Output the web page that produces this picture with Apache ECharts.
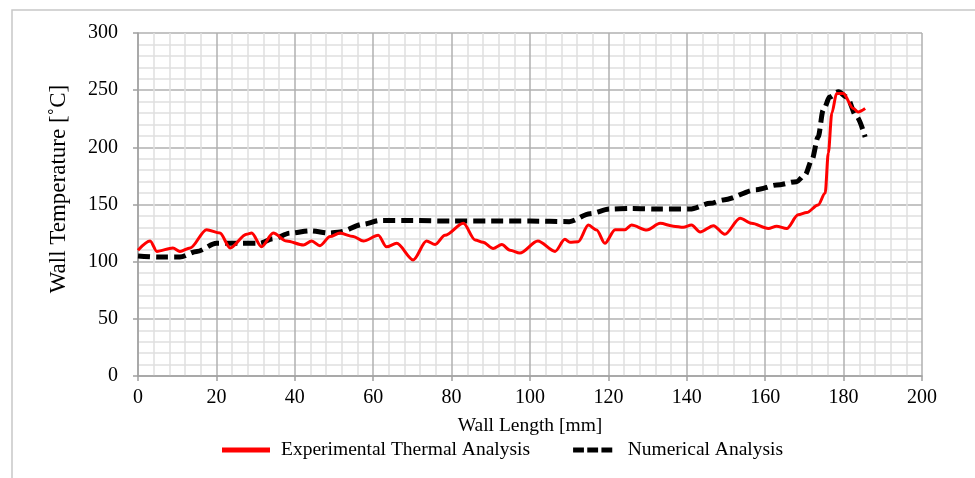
<!DOCTYPE html>
<html>
<head>
<meta charset="utf-8">
<script src="https://cdn.jsdelivr.net/npm/echarts@6/dist/echarts.min.js"></script>
<style>
html,body{margin:0;padding:0;background:#fff;}
#chart{width:975px;height:478px;}
</style>
</head>
<body>
<div id="chart"></div>
<script>
// Experimental thermal analysis (red)
var expX = [0,3.1,4.8,8.9,10.7,13.3,17.5,20.9,23.5,27.7,29,31.5,34.5,37.9,42.2,44.3,46.4,49,51.5,54.9,57.5,61.3,63.4,66,70.2,73.6,75.8,78.3,83,86,88,90.6,92.8,94.9,97.4,102,106.4,108.9,110.2,112.3,114.9,117,119.1,121.7,124.2,125.9,129.8,133.2,136.6,139.1,141.2,143.4,146.8,149.7,153.6,156.5,160.8,162.9,165.5,168.4,170.6,173.5,175.3,176.1,177,178.2,179.9,182.5,183.7,185.5];
var expT = [110,118,109,112,109,112,128,125,112,124,125,113,125,118,114.6,118,114,122,125,122,118,123,113,116,101.5,118,115,123,133.5,119,117,111.6,115,110,107.5,118,109,119.5,117,117.5,132,127.7,116,128,128,132,127.7,133.5,131,130,132,126,131.5,124,138,133.5,129,131,129,141,143,149.6,160,195,230,247,247,234,231,234];
// Numerical analysis (black dashed)
var numX = [0,5,10.7,15,20,26,31,34.5,38.8,43.9,49,51.5,57.4,61.7,70,80,90,100,110,115.3,120.4,125.5,133,140.8,146,149.3,157.8,162.9,168,170.2,171.9,173.5,174.8,176.5,178.7,180.8,183.3,185.5];
var numT = [105,104,104,109,116,116,116,120,125,127,125,126,132.7,136,136,135.5,135.5,135.5,135,142,146,146.5,146,146,151,154,163,167,170,176,189,209,232.6,244,248.6,244,227,209];

var seriesNames = ['Experimental Thermal Analysis','Numerical Analysis'];
var xAxisName = 'Wall Length [mm]';
var yAxisName = 'Wall Temperature [˚C]';

function zip(a,b){var r=[];for(var i=0;i<a.length;i++){r.push([a[i],b[i]]);}return r;}

var font = 'Liberation Serif';
var chart = echarts.init(document.getElementById('chart'));
chart.setOption({
  backgroundColor:'#fff',
  animation:false,
  grid:{left:138,right:53,top:33,bottom:102},
  graphic:[
    {type:'rect',shape:{x:12,y:10,width:980,height:480},style:{fill:'none',stroke:'#c8c8c8',lineWidth:1.5},silent:true,z:-10},
    {type:'text',style:{text:yAxisName,font:'23px "Liberation Serif"',fill:'#000',align:'center',verticalAlign:'middle'},rotation:Math.PI/2,x:59,y:189,silent:true}
  ],
  legend:{
    left:222, top:440, padding:0,
    itemWidth:48, itemHeight:5, itemGap:43,
    textStyle:{fontFamily:font,fontSize:19.5,color:'#000',padding:[0,0,0,6]},
    data:[
      {name:seriesNames[0],icon:'path://M0,0L48,0L48,5L0,5Z',itemStyle:{color:'#ff0000'}},
      {name:seriesNames[1],icon:'path://M0,0L13,0L13,6L0,6Z M17,0L30,0L30,6L17,6Z M34,0L47,0L47,6L34,6Z',itemStyle:{color:'#000'}}
    ]
  },
  xAxis:{
    type:'value',min:0,max:200,interval:20,
    name:xAxisName,nameLocation:'middle',nameGap:40,
    nameTextStyle:{fontFamily:font,fontSize:19.5,color:'#000'},
    axisLine:{show:true,lineStyle:{color:'#a0a0a0',width:1.5}},
    axisTick:{show:true,length:5,lineStyle:{color:'#a0a0a0',width:1.5}},
    axisLabel:{fontFamily:font,fontSize:20,color:'#000',margin:12},
    splitLine:{show:true,lineStyle:{color:'#b0b0b0',width:1.5}},
    minorTick:{show:false,splitNumber:5},
    minorSplitLine:{show:true,lineStyle:{color:'#e0e0e0',width:1.5}}
  },
  yAxis:{
    type:'value',min:0,max:300,interval:50,
    axisLine:{show:true,lineStyle:{color:'#a0a0a0',width:1.5}},
    axisTick:{show:true,length:5,lineStyle:{color:'#a0a0a0',width:1.5}},
    axisLabel:{fontFamily:font,fontSize:20,color:'#000',margin:20},
    splitLine:{show:true,lineStyle:{color:'#b0b0b0',width:1.5}},
    minorTick:{show:false,splitNumber:5},
    minorSplitLine:{show:true,lineStyle:{color:'#e0e0e0',width:1.5}}
  },
  series:[
    {name:seriesNames[0],type:'line',data:zip(expX,expT),showSymbol:false,symbol:'none',smooth:0.3,smoothMonotone:'x',
     lineStyle:{color:'#ff0000',width:3},itemStyle:{color:'#ff0000'},z:3},
    {name:seriesNames[1],type:'line',data:zip(numX,numT),showSymbol:false,symbol:'none',smooth:0.3,smoothMonotone:'x',
     lineStyle:{color:'#000',width:5,type:[12,6]},itemStyle:{color:'#000'},z:2}
  ]
});
</script>
</body>
</html>
